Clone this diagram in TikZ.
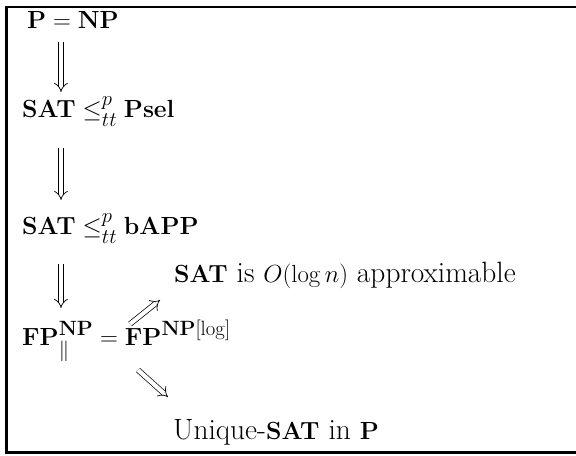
\documentclass[tikz,border=0pt]{standalone}
\usepackage{amsmath,amssymb}
\usetikzlibrary{positioning}
\usetikzlibrary{arrows.meta}
\usetikzlibrary{calc}
\usetikzlibrary{math}

\begin{document}
\begin{tikzpicture}[x=1bp,y=-1bp,
    txt/.style={inner sep=0pt, anchor=base west, font=\fontsize{29.5}{33}\selectfont},
    imp/.style={double, double distance=4.2bp, line width=0.7bp, -Implies}]
      \tikzmath{
        \w = 576;
        \h = 456;
        \col = 61;
      }

      \useasboundingbox (0,0) rectangle (\w,\h);
      \draw[line width=2.2bp] (6.5,7) rectangle (\w+20,452.5);

      \coordinate (col) at (\col,0);

      \node[txt] (pnp) at (27,29) {$\mathbf{P} = \mathbf{NP}$};
      \node[txt] (psel) at (22,118) {$\mathbf{SAT} \le^p_{tt} \mathbf{Psel}$};
      \node[txt] (bapp) at (22,235) {$\mathbf{SAT} \le^p_{tt} \mathbf{bAPP}$};
      \node[txt] (fpnp) at (22,345) {$\mathbf{FP}^{\mathbf{NP}}_{\|} = \mathbf{FP}^{\mathbf{NP}[\log]}$};
      \node[txt] (apx) at (174,283) {$\mathbf{SAT}$ is $O(\log n)$ approximable};
      \node[txt] (usat) at (173,439) {Unique-$\mathbf{SAT}$ in $\mathbf{P}$};

      % the chain down the left side
      \draw[imp] ($(pnp.base -| col)+(0,13)$) -- ($(psel.base -| col)+(0,-26)$);
      \draw[imp] ($(psel.base -| col)+(0,30)$) -- ($(bapp.base -| col)+(0,-35)$);
      \draw[imp] ($(bapp.base -| col)+(0,29)$) -- ($(fpnp.base -| col)+(0,-37)$);

      % and the two consequences
      \draw[imp] ($(fpnp.base west)+(108,-21)$) -- ($(apx.base west)+(-14,17)$);
      \draw[imp] ($(fpnp.base west)+(116,25)$) -- ($(usat.base west)+(-5,-42)$);

    \end{tikzpicture}
\end{document}
